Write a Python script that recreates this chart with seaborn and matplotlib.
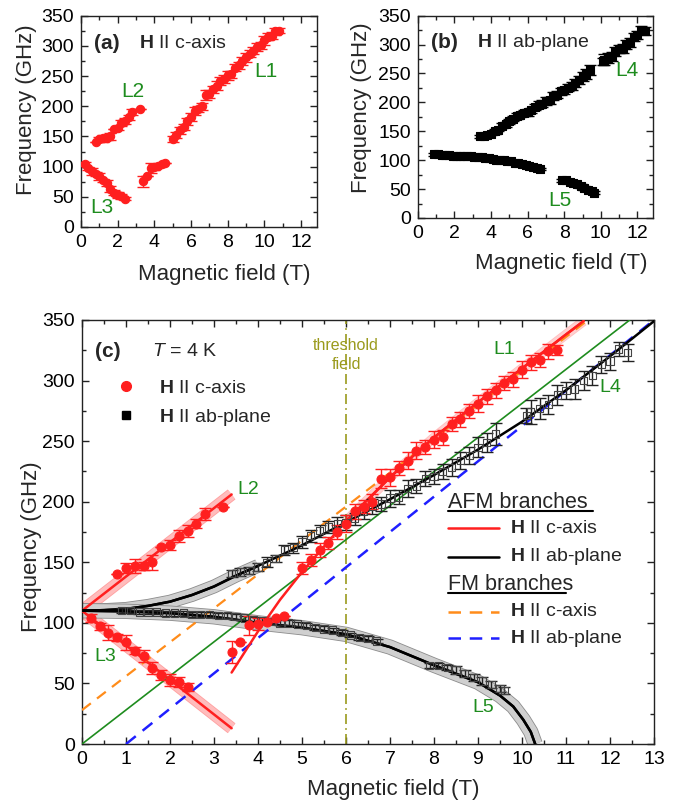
import matplotlib
matplotlib.use("Agg")
import matplotlib.pyplot as plt
import matplotlib.patheffects as pe
from matplotlib.lines import Line2D
from matplotlib.ticker import MultipleLocator
import seaborn as sns

# ---- measured resonances, H || c-axis (red) ----
c_l3_field = [0.2, 0.4, 0.6, 0.8, 1.0, 1.2, 1.4, 1.6, 1.8, 2.0, 2.2, 2.4]
c_l3_freq = [104, 97, 92, 88, 84, 77, 73, 63, 57, 53, 51, 47]
c_l3_err = [3, 3, 6, 3, 6, 3, 5, 5, 4, 5, 4, 3]

c_l2_field = [0.8, 1.0, 1.2, 1.4, 1.6, 1.8, 2.0, 2.2, 2.4, 2.6, 2.8, 3.2]
c_l2_freq = [140, 145, 147, 147, 150, 163, 164, 172, 176, 182, 190, 196]
c_l2_err = [0, 4, 6, 3, 6, 0, 4, 5, 5, 4, 5, 0]

c_mid_field = [3.4, 3.6, 3.8, 4.0, 4.2, 4.4, 4.6]
c_mid_freq = [76, 84, 98, 99, 101, 104, 106]
c_mid_err = [9, 0, 8, 5, 0, 0, 0]

c_l1_field = [5.0, 5.2, 5.4, 5.6, 5.8, 6.0, 6.2, 6.4, 6.6, 6.8, 7.0, 7.2, 7.4, 7.6, 7.8,
              8.0, 8.2, 8.4, 8.6, 8.8, 9.0, 9.2, 9.4, 9.6, 9.8, 10.0, 10.2, 10.4, 10.6, 10.8]
c_l1_freq = [145, 152, 160, 166, 175, 182, 192, 196, 200, 219, 220, 228, 234, 242, 245,
             251, 253, 264, 268, 275, 281, 287, 292, 298, 301, 309, 315, 317, 324, 325]
c_l1_err = [5, 5, 6, 5, 6, 7, 6, 5, 6, 8, 7, 6, 7, 7, 6,
            7, 6, 6, 6, 6, 7, 6, 6, 6, 6, 7, 6, 6, 6, 4]

# ---- measured resonances, H || ab-plane (black) ----
ab_up_field = [3.4, 3.6, 3.8, 4.0, 4.2, 4.4, 4.6, 4.8, 5.0, 5.2, 5.4, 5.6, 5.8, 6.0, 6.2, 6.4,
               6.6, 6.8, 7.0, 7.2, 7.4, 7.6, 7.8, 8.0, 8.2, 8.4, 8.6, 8.8, 9.0, 9.2, 9.4,
               10.1, 10.2, 10.4, 10.6, 10.8, 11.0, 11.2, 11.4, 11.6, 11.8, 12.0, 12.2, 12.4]
ab_up_freq = [141, 142, 143, 146, 150, 153, 160, 162, 167, 172, 176, 179, 182, 183, 186, 192,
              196, 198, 203, 204, 211, 213, 219, 221, 225, 228, 234, 238, 245, 249, 256,
              271, 274, 277, 280, 288, 292, 293, 300, 304, 313, 316, 326, 323]
ab_up_err = [3, 3, 3, 3, 4, 3, 4, 4, 5, 5, 5, 5, 5, 6, 5, 6,
             6, 6, 7, 6, 7, 6, 6, 6, 6, 7, 7, 7, 8, 8, 9,
             6, 10, 9, 8, 8, 7, 8, 8, 8, 7, 7, 6, 7]

ab_lo_field = [0.9, 1.1, 1.3, 1.5, 1.7, 1.9, 2.1, 2.3, 2.5, 2.7, 2.9, 3.1, 3.3, 3.5, 3.7,
               3.9, 4.1, 4.3, 4.5, 4.7, 4.9, 5.1, 5.3, 5.5, 5.7, 5.9, 6.1, 6.3, 6.5, 6.7,
               7.9, 8.1, 8.3, 8.5, 8.7, 8.9, 9.1, 9.3, 9.5, 9.6]
ab_lo_freq = [110, 110, 109, 109, 109, 108, 108, 108, 107, 107, 107, 106, 106, 105, 104,
              103, 102, 101, 100, 100, 99, 98, 96, 95, 94, 92, 90, 88, 87, 85,
              65, 65, 63, 61, 58, 55, 52, 49, 46, 44]
ab_lo_err = [2, 2, 2, 2, 2, 2, 2, 2, 2, 2, 2, 2, 2, 2, 2,
             2, 2, 2, 2, 2, 2, 2, 2, 2, 2, 2, 2, 2, 2, 2,
             2, 2, 2, 3, 3, 3, 3, 3, 3, 3]

# ---- model branches ----
afm_c_l2_field = [0.0, 3.4]
afm_c_l2_freq = [110, 206]
afm_c_l3_field = [0.0, 3.4]
afm_c_l3_freq = [110, 13]
afm_c_hi_field = [3.4, 4.0, 4.5, 5.0, 5.5, 6.0, 6.5, 7.0, 7.5, 8.0, 9.0, 10.0, 11.0, 11.4]
afm_c_hi_freq = [59, 93, 119, 142, 163, 184, 202, 220, 237, 253, 282, 310, 338, 349]
afm_ab_up_field = [0.0, 0.5, 1.0, 1.5, 2.0, 2.5, 3.0, 3.5, 4.0, 5.0, 6.0, 7.0, 8.0, 9.0,
                   10.0, 11.0, 12.0, 13.0]
afm_ab_up_freq = [110, 110.5, 111.5, 114, 117.5, 123, 130, 139, 147, 164, 183, 202, 222, 243,
                  266, 292, 320, 349]
afm_ab_lo_field = [0.0, 1.0, 2.0, 3.0, 4.0, 5.0, 6.0, 7.0, 8.0, 9.0, 9.5, 9.8, 10.03, 10.2, 10.3]
afm_ab_lo_freq = [110, 109.5, 108, 105, 100, 96, 90.5, 80, 65, 51, 40, 31, 20, 10, 0]
fm_c_field = [0.0, 11.5]
fm_c_freq = [28, 350]
fm_ab_field = [1.0, 13.0]
fm_ab_freq = [0, 350]
free_field = [0.0, 12.45]
free_freq = [0, 350]
threshold_field = 6.0

RED = "#ff1f1f"
GREEN = "#1e8c1e"
OLIVE = "#9a9a1c"
ORANGE = "#ff8c1a"
BLUE = "#1f1fff"

sns.set_theme(style="ticks")
plt.rcParams["font.family"] = ["Liberation Sans", "DejaVu Sans"]
plt.rcParams["mathtext.fontset"] = "custom"
plt.rcParams["mathtext.rm"] = "Liberation Sans"
plt.rcParams["mathtext.bf"] = "Liberation Sans:bold"
plt.rcParams["mathtext.it"] = "Liberation Sans:italic"
plt.rcParams["axes.edgecolor"] = "#222222"
plt.rcParams["axes.linewidth"] = 1.0


def style_axes(ax, xmax, xmaj, xmin):
    ax.set_xlim(0, xmax)
    ax.set_ylim(0, 350)
    ax.xaxis.set_major_locator(MultipleLocator(xmaj))
    ax.xaxis.set_minor_locator(MultipleLocator(xmin))
    ax.yaxis.set_major_locator(MultipleLocator(50))
    ax.yaxis.set_minor_locator(MultipleLocator(25))
    ax.tick_params(which="both", direction="in", top=True, right=True, labelsize=14,
                   colors="#222222", labelcolor="black")
    ax.tick_params(which="major", length=5, width=1, pad=5)
    ax.tick_params(which="minor", length=3, width=1)
    ax.set_xlabel("Magnetic field (T)", fontsize=16)
    ax.set_ylabel("Frequency (GHz)", fontsize=16)
    ax.xaxis.label.set_va("center")
    ax.yaxis.label.set_va("center")


def points(ax, x, y, err, marker, size, face, edge, ecolor, lw=0.8):
    ax.errorbar(x, y, yerr=err, fmt="none", ecolor=ecolor, elinewidth=1.0, capsize=4.5,
                capthick=1.0, zorder=4)
    sns.scatterplot(x=x, y=y, ax=ax, marker=marker, s=size, color=face, edgecolor=edge,
                    linewidth=lw, zorder=5, legend=False)


def curve(ax, x, y, color, lw, ls="-", band=None, edge=None, width=6, z=3):
    if band is not None:
        sns.lineplot(x=x, y=y, ax=ax, color=band, lw=lw + width, sort=False, estimator=None,
                     solid_capstyle="butt", zorder=1, legend=False,
                     path_effects=[pe.Stroke(linewidth=lw + width + 1.2, foreground=edge),
                                   pe.Normal()])
    sns.lineplot(x=x, y=y, ax=ax, color=color, lw=lw, linestyle=ls, sort=False,
                 estimator=None, zorder=z, legend=False)


fig = plt.figure(figsize=(6.83, 8.08), dpi=100)
ax_a = fig.add_axes([0.1186, 0.7191, 0.3451, 0.2615])
ax_b = fig.add_axes([0.6116, 0.7302, 0.3445, 0.2504])
ax_c = fig.add_axes([0.1201, 0.0792, 0.8374, 0.5248])

# ---- (a) H || c-axis ----
for fx, fy, fe in [(c_l3_field, c_l3_freq, c_l3_err), (c_l2_field, c_l2_freq, c_l2_err),
                   (c_mid_field, c_mid_freq, c_mid_err), (c_l1_field, c_l1_freq, c_l1_err)]:
    points(ax_a, fx, fy, fe, "o", 36, RED, RED, RED)
style_axes(ax_a, 12.85, 2, 1)
ax_a.xaxis.set_label_coords(0.607, -0.227)
ax_a.yaxis.set_label_coords(-0.23, 0.554)
ax_a.text(0.055, 0.866, "(a)", transform=ax_a.transAxes, fontsize=15, fontweight="bold", va="center")
ax_a.text(0.247, 0.866, r"$\mathbf{H}$ II c-axis", transform=ax_a.transAxes, fontsize=14, va="center")
ax_a.text(2.82, 224, "L2", color=GREEN, fontsize=15, ha="center", va="center")
ax_a.text(1.13, 33, "L3", color=GREEN, fontsize=15, ha="center", va="center")
ax_a.text(10.1, 258, "L1", color=GREEN, fontsize=15, ha="center", va="center")

# ---- (b) H || ab-plane ----
for fx, fy, fe in [(ab_up_field, ab_up_freq, ab_up_err), (ab_lo_field, ab_lo_freq, ab_lo_err)]:
    points(ax_b, fx, fy, fe, "s", 30, "black", "black", "black")
style_axes(ax_b, 12.85, 2, 1)
ax_b.xaxis.set_label_coords(0.608, -0.224)
ax_b.yaxis.set_label_coords(-0.238, 0.546)
ax_b.text(0.055, 0.867, "(b)", transform=ax_b.transAxes, fontsize=15, fontweight="bold", va="center")
ax_b.text(0.251, 0.867, r"$\mathbf{H}$ II ab-plane", transform=ax_b.transAxes, fontsize=14, va="center")
ax_b.text(11.4, 256, "L4", color=GREEN, fontsize=15, ha="center", va="center")
ax_b.text(7.76, 31, "L5", color=GREEN, fontsize=15, ha="center", va="center")

# ---- (c) combined with model ----
ax = ax_c
curve(ax, afm_c_l2_field, afm_c_l2_freq, RED, 1.8, band="#ffbcbc", edge="#ffa0a0")
curve(ax, afm_c_l3_field, afm_c_l3_freq, RED, 1.8, band="#ffbcbc", edge="#ffa0a0")
curve(ax, afm_c_hi_field[5:], afm_c_hi_freq[5:], RED, 1.8, band="#ffd0d0", edge="#ffc0c0", width=4)
curve(ax, afm_ab_up_field[:9], afm_ab_up_freq[:9], "black", 1.8, band="#cfcfcf", edge="#8c8c8c", width=7)
curve(ax, afm_ab_lo_field, afm_ab_lo_freq, "black", 1.8, band="#cfcfcf", edge="#8c8c8c", width=8)
curve(ax, free_field, free_freq, GREEN, 1.2)
curve(ax, fm_c_field, fm_c_freq, ORANGE, 1.6, ls=(0, (5, 3.5)))
curve(ax, fm_ab_field, fm_ab_freq, BLUE, 1.8, ls=(0, (5, 3.5)))
curve(ax, afm_c_hi_field, afm_c_hi_freq, RED, 1.8, z=3.5)
curve(ax, afm_ab_up_field, afm_ab_up_freq, "black", 1.8, z=3.5)
curve(ax, afm_ab_lo_field, afm_ab_lo_freq, "black", 1.8, z=3.5)
ax.axvline(threshold_field, color=OLIVE, lw=1.2, ls=(0, (6, 2.5, 1, 2.5)), zorder=2)

for fx, fy, fe in [(ab_up_field, ab_up_freq, ab_up_err), (ab_lo_field, ab_lo_freq, ab_lo_err)]:
    points(ax, fx, fy, fe, "s", 28, "none", "#444444", "#222222", lw=0.8)
for fx, fy, fe in [(c_l3_field, c_l3_freq, c_l3_err), (c_l2_field, c_l2_freq, c_l2_err),
                   (c_mid_field, c_mid_freq, c_mid_err), (c_l1_field, c_l1_freq, c_l1_err)]:
    points(ax, fx, fy, fe, "o", 42, RED, RED, RED)

style_axes(ax, 13, 1, 0.5)
ax.xaxis.set_label_coords(0.544, -0.108)
ax.yaxis.set_label_coords(-0.089, 0.465)

ax.text(0.3, 324, "(c)", fontsize=15, fontweight="bold", va="center")
ax.text(1.6, 324, r"$\mathit{T}$ = 4 K", fontsize=14, va="center")
ax.text(threshold_field, 329, "threshold", color=OLIVE, fontsize=11.5, ha="center", va="center")
ax.text(threshold_field, 313, "field", color=OLIVE, fontsize=11.5, ha="center", va="center")
for name, lx, ly in [("L1", 9.6, 326), ("L2", 3.77, 210), ("L3", 0.52, 72),
                     ("L4", 12.0, 294), ("L5", 9.12, 30)]:
    ax.text(lx, ly, name, color=GREEN, fontsize=14, ha="center", va="center")

handles = [Line2D([], [], marker="o", color=RED, ls="none", markersize=7),
           Line2D([], [], marker="s", color="black", ls="none", markersize=6)]
ax.legend(handles, [r"$\mathbf{H}$ II c-axis", r"$\mathbf{H}$ II ab-plane"],
          loc="upper left", bbox_to_anchor=(0.06, 0.86), frameon=False, fontsize=14,
          handlelength=1.0, handletextpad=1.2, labelspacing=0.5, borderpad=0, borderaxespad=0)

# branch key, drawn in axes fraction
tr = ax.transAxes
ax.text(0.639, 0.569, "AFM branches", transform=tr, fontsize=15.5, va="center")
ax.plot([0.639, 0.894], [0.549, 0.549], transform=tr, color="black", lw=1.5)
ax.text(0.639, 0.375, "FM branches", transform=tr, fontsize=15.5, va="center")
ax.plot([0.639, 0.846], [0.355, 0.355], transform=tr, color="black", lw=1.5)
key = [(0.509, RED, "-", r"$\mathbf{H}$ II c-axis"),
       (0.442, "black", "-", r"$\mathbf{H}$ II ab-plane"),
       (0.312, ORANGE, (0, (5, 3.5)), r"$\mathbf{H}$ II c-axis"),
       (0.249, BLUE, (0, (5, 3.5)), r"$\mathbf{H}$ II ab-plane")]
for ky, kc, kls, klabel in key:
    ax.plot([0.639, 0.729], [ky, ky], transform=tr, color=kc, lw=1.8, ls=kls)
    ax.text(0.748, ky, klabel, transform=tr, fontsize=14, va="center")

fig.savefig("out.png", dpi=100)
